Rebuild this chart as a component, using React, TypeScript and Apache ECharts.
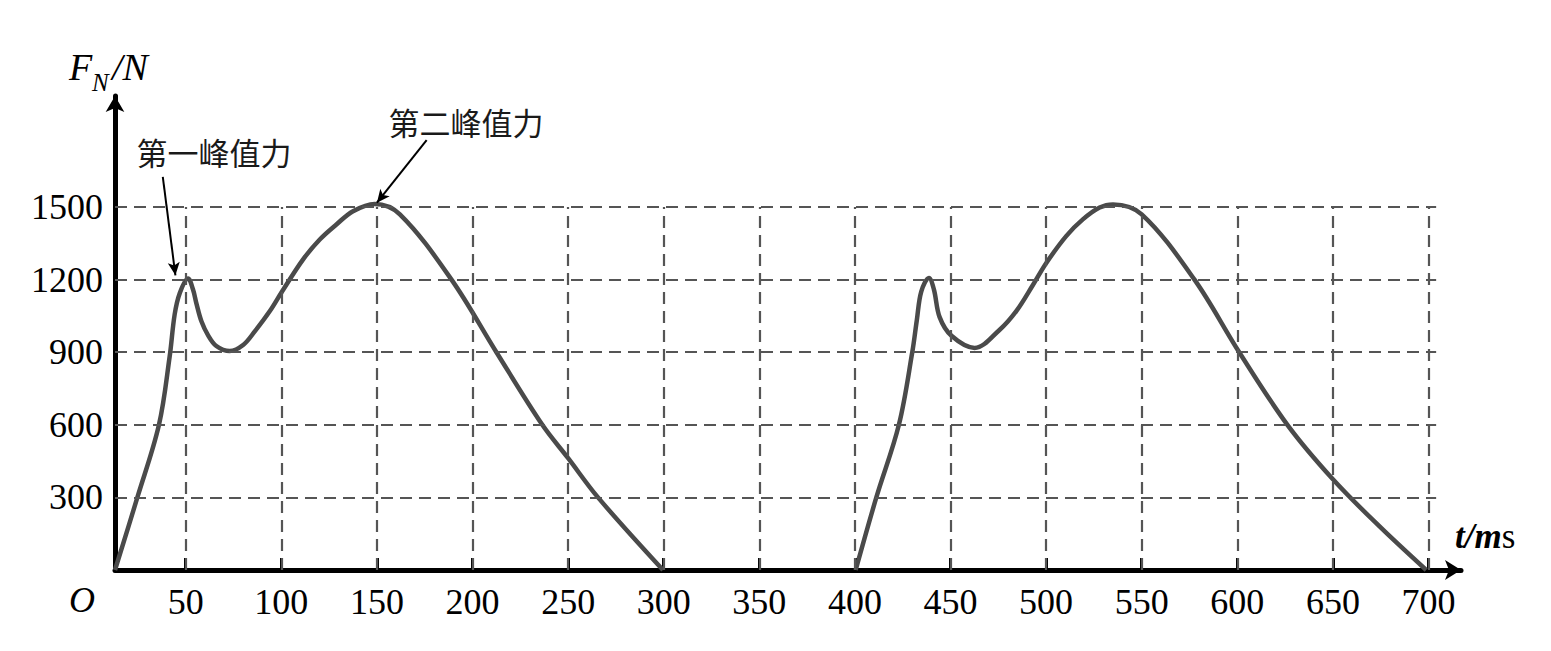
import React, { useEffect, useRef } from "react";
import * as echarts from "echarts";

// ---- data ----
const xTickValues = [50, 100, 150, 200, 250, 300, 350, 400, 450, 500, 550, 600, 650, 700];
const yTickValues = [300, 600, 900, 1200, 1500];

const cycle1T = [13, 24.7, 36, 41.6, 44.2, 46.9, 51.2, 53.8, 55.6, 58.2, 61.7, 66, 73, 80, 86, 94, 100.3, 111.3, 120.1, 128.8, 137.5, 148.8, 162, 189, 212.5, 236.5, 250, 265.6, 299.6];
const cycle1F = [0, 300, 600, 883, 1056, 1145, 1205, 1159, 1101, 1028, 970, 926, 905, 930, 985, 1070, 1150, 1283, 1366, 1428, 1483, 1513, 1470, 1200, 900, 600, 462, 300, 0];

const cycle2T = [400.4, 411.2, 423, 430, 432.4, 434.7, 438.7, 441.3, 444.3, 450.5, 462.6, 475.6, 484.4, 493.1, 500.1, 510.5, 519.2, 528, 535, 550, 577.6, 601, 626.2, 650, 674.4, 698.8];
const cycle2F = [0, 300, 600, 900, 1034, 1151, 1207, 1160, 1045, 968, 918, 992, 1070, 1178, 1269, 1380, 1449, 1498, 1511, 1470, 1200, 900, 600, 375, 180, 0];

const annotationTexts = ["第一峰值力", "第二峰值力"];
// arrow [from, to] in data coordinates (t, F)
const arrow1 = [[38, 1625], [44.6, 1218]];
const arrow2 = [[176, 1777], [150, 1518]];

const X_MIN = 13;
const X_MAX = 717;
const Y_MAX = 1959;
const GRID_X_END = 704;
const GRID_Y_END = 1500;

const SERIF = '"Liberation Serif", "Times New Roman", serif';
const CJK = '"Noto Sans CJK SC", sans-serif';

export default function App() {
  const ref = useRef<HTMLDivElement>(null);

  useEffect(() => {
    if (!ref.current) return;
    const chart = echarts.init(ref.current, undefined, { renderer: "svg" });

    const gridLines: any[] = [];
    yTickValues.forEach((v) => {
      gridLines.push([{ coord: [X_MIN, v] }, { coord: [GRID_X_END, v] }]);
    });
    xTickValues.forEach((v) => {
      gridLines.push([{ coord: [v, 0] }, { coord: [v, GRID_Y_END] }]);
    });

    const curveStyle = { color: "#4a4a4a", width: 4.5 };

    chart.setOption({
      animation: false,
      backgroundColor: "#ffffff",
      grid: { left: 115, right: 90, top: 96, bottom: 81 },
      xAxis: {
        type: "value",
        min: X_MIN,
        max: X_MAX,
        splitLine: { show: false },
        axisLine: {
          show: true,
          onZero: false,
          symbol: ["none", "arrow"],
          symbolSize: [15, 16],
          lineStyle: { color: "#000", width: 5 },
        },
        axisTick: {
          show: true,
          inside: true,
          length: 12,
          customValues: xTickValues,
          lineStyle: { color: "#000", width: 3 },
        },
        axisLabel: {
          customValues: xTickValues,
          formatter: (v: number) => String(v),
          color: "#000",
          fontFamily: SERIF,
          fontSize: 36,
          margin: 14,
        },
      },
      yAxis: {
        type: "value",
        min: 0,
        max: Y_MAX,
        splitLine: { show: false },
        axisLine: {
          show: true,
          onZero: false,
          symbol: ["none", "arrow"],
          symbolSize: [14, 16],
          lineStyle: { color: "#000", width: 5 },
        },
        axisTick: { show: false, customValues: yTickValues },
        axisLabel: {
          customValues: yTickValues,
          formatter: (v: number) => String(v),
          color: "#000",
          fontFamily: SERIF,
          fontSize: 36,
          margin: 12,
        },
      },
      series: [
        {
          type: "line",
          z: 1,
          data: [],
          silent: true,
          markLine: {
            silent: true,
            symbol: ["none", "none"],
            label: { show: false },
            emphasis: { disabled: true },
            lineStyle: { type: [12, 7], color: "#555555", width: 2.2 },
            data: gridLines,
          },
        },
        {
          type: "line",
          z: 3,
          data: cycle1T.map((t, i) => [t, cycle1F[i]]),
          showSymbol: false,
          smooth: 0.35,
          lineStyle: curveStyle,
          silent: true,
        },
        {
          type: "line",
          z: 3,
          data: cycle2T.map((t, i) => [t, cycle2F[i]]),
          showSymbol: false,
          smooth: 0.35,
          lineStyle: curveStyle,
          silent: true,
        },
        {
          type: "line",
          z: 4,
          data: [],
          silent: true,
          markLine: {
            silent: true,
            symbol: ["none", "arrow"],
            symbolSize: [9, 13],
            label: { show: false },
            emphasis: { disabled: true },
            lineStyle: { type: "solid", color: "#000", width: 2 },
            data: [
              [{ coord: arrow1[0] }, { coord: arrow1[1] }],
              [{ coord: arrow2[0] }, { coord: arrow2[1] }],
            ],
          },
        },
      ],
      graphic: [
        {
          type: "text",
          x: 214,
          y: 151,
          style: {
            text: annotationTexts[0],
            fontFamily: CJK,
            fontSize: 31,
            fill: "#1a1a1a",
            align: "center",
            verticalAlign: "middle",
          },
        },
        {
          type: "text",
          x: 466,
          y: 121,
          style: {
            text: annotationTexts[1],
            fontFamily: CJK,
            fontSize: 31,
            fill: "#1a1a1a",
            align: "center",
            verticalAlign: "middle",
          },
        },
        {
          type: "text",
          x: 82,
          y: 600,
          style: {
            text: "O",
            fontFamily: SERIF,
            fontStyle: "italic",
            fontSize: 36,
            fill: "#000",
            align: "center",
            verticalAlign: "middle",
          },
        },
        {
          type: "text",
          x: 69,
          y: 67,
          style: {
            text: "F",
            fontFamily: SERIF,
            fontStyle: "italic",
            fontSize: 38,
            fill: "#000",
            align: "left",
            verticalAlign: "middle",
          },
        },
        {
          type: "text",
          x: 92,
          y: 82,
          style: {
            text: "N",
            fontFamily: SERIF,
            fontStyle: "italic",
            fontSize: 25,
            fill: "#000",
            align: "left",
            verticalAlign: "middle",
          },
        },
        {
          type: "text",
          x: 112,
          y: 67,
          style: {
            text: "/N",
            fontFamily: SERIF,
            fontStyle: "italic",
            fontSize: 38,
            fill: "#000",
            align: "left",
            verticalAlign: "middle",
          },
        },
        {
          type: "text",
          x: 1455,
          y: 536,
          style: {
            text: "{a|t/m}{b|s}",
            align: "left",
            verticalAlign: "middle",
            rich: {
              a: {
                fontFamily: SERIF,
                fontStyle: "italic",
                fontWeight: "bold",
                fontSize: 35,
                fill: "#000",
                color: "#000",
              },
              b: {
                fontFamily: SERIF,
                fontSize: 35,
                fill: "#000",
                color: "#000",
              },
            },
          },
        },
      ],
    });

    return () => {
      chart.dispose();
    };
  }, []);

  return (
    <div
      ref={ref}
      style={{ position: "fixed", left: 0, top: 0, width: 1551, height: 651, background: "#fff" }}
    />
  );
}
